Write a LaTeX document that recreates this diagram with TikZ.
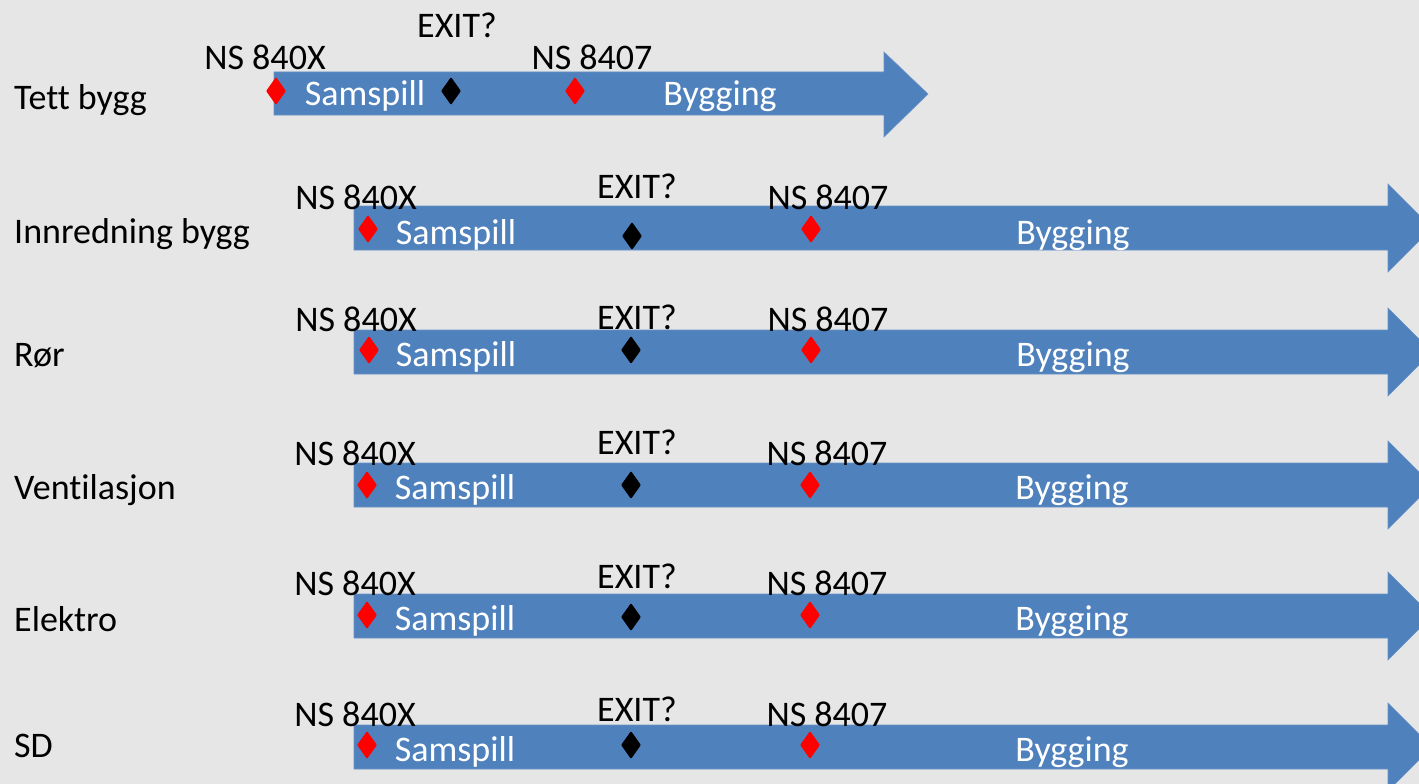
\documentclass[tikz,border=0pt]{standalone}
\usepackage{fontspec}
\setmainfont[Ligatures=NoCommon]{Carlito}
\usepackage{xcolor}
\usepackage{tikz}
\usetikzlibrary{shapes.geometric}

\definecolor{barblue}{RGB}{79,129,189}
\definecolor{bggray}{RGB}{230,230,230}

\tikzset{
  bar/.style={fill=barblue, draw=barblue!85!white, line width=0.6pt},
  txt/.style={anchor=base, inner sep=0pt, font=\fontsize{36}{40}\selectfont},
  rowlabel/.style={txt, anchor=base west},
  inbar/.style={txt, text=white},
  redmark/.style={diamond, fill=red, inner sep=0pt, minimum width=20pt, minimum height=28pt, rounded corners=1pt},
  blackmark/.style={redmark, fill=black},
}

\begin{document}
\begin{tikzpicture}[x=1pt, y=-1pt]
      \useasboundingbox (0, 0) rectangle (1419, 784);
      \fill[bggray] (0, 0) rectangle (1419, 784);
      \clip (0, 0) rectangle (1419, 784);
      
      % arrows
      \filldraw[bar] (274, 72) -- (884, 72) -- (884, 52) -- (928, 94) -- (884, 137) -- (884, 115) -- (274, 115) -- cycle;
      \filldraw[bar] (354, 206) -- (1388, 206) -- (1388, 184) -- (1432, 228) -- (1388, 272) -- (1388, 250) -- (354, 250) -- cycle;
      \filldraw[bar] (354, 330) -- (1388, 330) -- (1388, 308) -- (1432, 352) -- (1388, 396) -- (1388, 374) -- (354, 374) -- cycle;
      \filldraw[bar] (354, 463) -- (1388, 463) -- (1388, 441) -- (1432, 485) -- (1388, 529) -- (1388, 507) -- (354, 507) -- cycle;
      \filldraw[bar] (354, 594) -- (1388, 594) -- (1388, 572) -- (1432, 616) -- (1388, 660) -- (1388, 638) -- (354, 638) -- cycle;
      \filldraw[bar] (354, 725) -- (1388, 725) -- (1388, 703) -- (1432, 747) -- (1388, 791) -- (1388, 769) -- (354, 769) -- cycle;
      
      % row labels
      \node[rowlabel] (tett) at (14, 109) {Tett bygg};
      \node[rowlabel] (innredning) at (14, 243) {Innredning bygg};
      \node[rowlabel] (ror) at (14, 366) {Rør};
      \node[rowlabel] (ventilasjon) at (14, 499) {Ventilasjon};
      \node[rowlabel] (elektro) at (14, 631) {Elektro};
      \node[rowlabel] (sd) at (14, 757) {SD};
      
      % Tett bygg
      \node[txt] (tettns) at (265, 70) {NS 840X};
      \node[txt] (tettexit) at (457, 38) {EXIT?};
      \node[txt] (tettnsb) at (592, 70) {NS 8407};
      \node[inbar] (tettsam) at (365, 106) {Samspill};
      \node[inbar] (tettbyg) at (720, 106) {Bygging};
      \node[redmark] (tettd1) at (276, 91) {};
      \node[blackmark] (tettd2) at (451, 91) {};
      \node[redmark] (tettd3) at (575, 91) {};
      
      % Innredning bygg
      \node[txt] (innns) at (356, 209) {NS 840X};
      \node[txt] (innexit) at (637, 198) {EXIT?};
      \node[txt] (innnsb) at (828, 209) {NS 8407};
      \node[inbar] (innsam) at (456, 244) {Samspill};
      \node[inbar] (innbyg) at (1073, 244) {Bygging};
      \node[redmark] (innd1) at (368, 229) {};
      \node[blackmark] (innd2) at (632, 236) {};
      \node[redmark] (innd3) at (811, 229) {};
      
      % Rør
      \node[txt] (rorns) at (356, 331) {NS 840X};
      \node[txt] (rorexit) at (637, 329) {EXIT?};
      \node[txt] (rornsb) at (828, 331) {NS 8407};
      \node[inbar] (rorsam) at (456, 366) {Samspill};
      \node[inbar] (rorbyg) at (1073, 366) {Bygging};
      \node[redmark] (rord1) at (369, 350) {};
      \node[blackmark] (rord2) at (631, 350) {};
      \node[redmark] (rord3) at (811, 350) {};
      
      % Ventilasjon
      \node[txt] (venns) at (355, 465) {NS 840X};
      \node[txt] (venexit) at (637, 454) {EXIT?};
      \node[txt] (vennsb) at (827, 465) {NS 8407};
      \node[inbar] (vensam) at (455, 499) {Samspill};
      \node[inbar] (venbyg) at (1072, 499) {Bygging};
      \node[redmark] (vend1) at (367, 485) {};
      \node[blackmark] (vend2) at (631, 485) {};
      \node[redmark] (vend3) at (810, 485) {};
      
      % Elektro
      \node[txt] (elns) at (355, 595) {NS 840X};
      \node[txt] (elexit) at (637, 588) {EXIT?};
      \node[txt] (elnsb) at (827, 595) {NS 8407};
      \node[inbar] (elsam) at (455, 630) {Samspill};
      \node[inbar] (elbyg) at (1072, 630) {Bygging};
      \node[redmark] (eld1) at (367, 615) {};
      \node[blackmark] (eld2) at (631, 617) {};
      \node[redmark] (eld3) at (810, 615) {};
      
      % SD
      \node[txt] (sdns) at (355, 726) {NS 840X};
      \node[txt] (sdexit) at (637, 721) {EXIT?};
      \node[txt] (sdnsb) at (827, 726) {NS 8407};
      \node[inbar] (sdsam) at (455, 761) {Samspill};
      \node[inbar] (sdbyg) at (1072, 761) {Bygging};
      \node[redmark] (sdd1) at (367, 745) {};
      \node[blackmark] (sdd2) at (631, 745) {};
      \node[redmark] (sdd3) at (810, 745) {};
      
      \end{tikzpicture}
\end{document}
